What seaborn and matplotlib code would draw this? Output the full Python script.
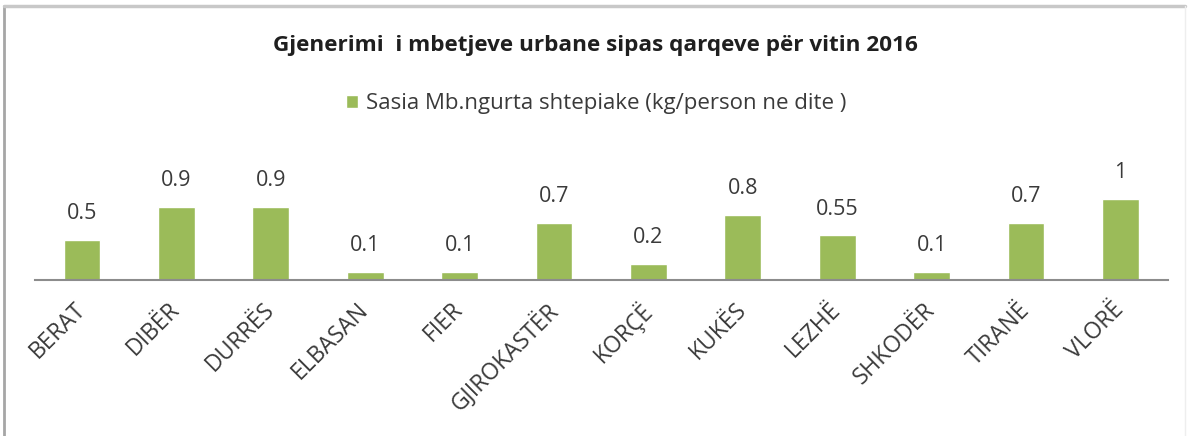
import matplotlib
matplotlib.use("Agg")
import matplotlib.pyplot as plt
from matplotlib.lines import Line2D
import seaborn as sns
import pandas as pd

# Waste generation by county, 2016
categories = ["BERAT", "DIBËR", "DURRËS", "ELBASAN", "FIER", "GJIROKASTËR",
              "KORÇË", "KUKËS", "LEZHË", "SHKODËR", "TIRANË", "VLORË"]
values = [0.5, 0.9, 0.9, 0.1, 0.1, 0.7, 0.2, 0.8, 0.55, 0.1, 0.7, 1]
value_labels = ["0.5", "0.9", "0.9", "0.1", "0.1", "0.7", "0.2", "0.8", "0.55", "0.1", "0.7", "1"]
series_name = "Sasia Mb.ngurta shtepiake (kg/person ne dite )"
title = "Gjenerimi  i mbetjeve urbane sipas qarqeve për vitin 2016"

bar_color = "#9BBB59"
text_color = "#3A3A3A"

sns.set_theme(style="white")
plt.rcParams["font.family"] = ["Open Sans", "DejaVu Sans"]

W, H = 1190, 436
fig = plt.figure(figsize=(W / 100, H / 100), dpi=100)
fig.patch.set_facecolor("white")

# plot area in pixel terms: x from 35 to 1168, baseline at y=280 (from top)
left, right = 34.8, 1167.7
base_y, top_y = 280, 150
ax = fig.add_axes([left / W, (H - base_y) / H, (right - left) / W, (base_y - top_y) / H])

df = pd.DataFrame({"qarku": categories, "vlera": values})
sns.barplot(data=df, x="qarku", y="vlera", color=bar_color, width=0.39,
            saturation=1, ax=ax, label=series_name)

ax.set_xlim(-0.5, len(categories) - 0.5)
ax.set_ylim(0, (base_y - top_y) / 81.0)
ax.set_xlabel("")
ax.set_ylabel("")
ax.set_yticks([])
for s in ("left", "right", "top"):
    ax.spines[s].set_visible(False)
ax.spines["bottom"].set_color("#8C8C8C")
ax.spines["bottom"].set_linewidth(1.5)
ax.set_facecolor("none")

ax.tick_params(axis="x", length=0, pad=19, colors=text_color)
ax.set_xticks(range(len(categories)))
ax.set_xticklabels(categories, rotation=45, ha="right", va="center",
                   rotation_mode="anchor", fontsize=16.5, color=text_color)

# value labels above each bar
for i, (v, lab) in enumerate(zip(values, value_labels)):
    ax.annotate(lab, xy=(i, v), xytext=(0, 19), textcoords="offset points",
                ha="center", va="center", fontsize=15.5, color=text_color)

# title and legend
fig.text(595 / W, 1 - 45 / H, title, ha="center", va="center",
         fontsize=16.2, fontweight="bold", color="#1F1F1F")
handles, labels = ax.get_legend_handles_labels()
if ax.get_legend() is not None:
    ax.get_legend().remove()
fig.legend(handles[:1], [series_name], loc="center", bbox_to_anchor=(596 / W, 1 - 104 / H),
           frameon=False, fontsize=16, handlelength=0.55, handleheight=0.55,
           handletextpad=0.35, labelcolor=text_color)

# chart border
fig.add_artist(Line2D([4 / W, 4 / W], [0, 1 - 6 / H], transform=fig.transFigure,
                      color="#A6A6A6", lw=2))
fig.add_artist(Line2D([4 / W, 1185 / W], [1 - 6 / H, 1 - 6 / H], transform=fig.transFigure,
                      color="#C8C8C8", lw=2.5))
fig.add_artist(Line2D([1185 / W, 1185 / W], [0, 1 - 6 / H], transform=fig.transFigure,
                      color="#EEEEEE", lw=1))

fig.savefig("out.png", dpi=100, facecolor="white")
